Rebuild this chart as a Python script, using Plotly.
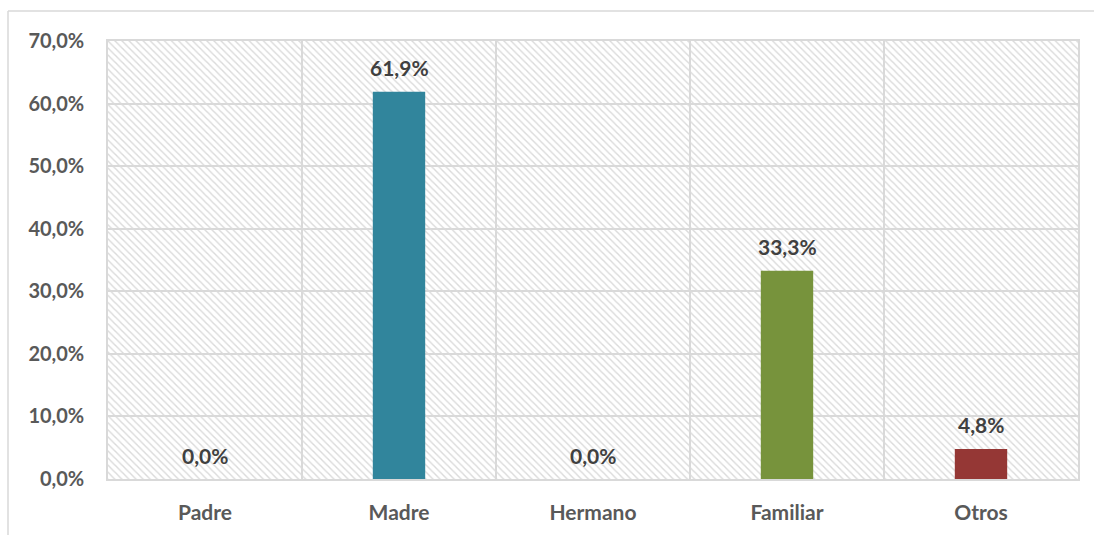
import plotly.graph_objects as go

categories = ["Padre", "Madre", "Hermano", "Familiar", "Otros"]
values = [0.0, 61.9, 0.0, 33.3, 4.8]
bar_colors = ["#4f81bd", "#31859c", "#c0504d", "#77933c", "#953735"]
y_ticks = [0, 10, 20, 30, 40, 50, 60, 70]
y_ticktext = ["0,0%", "10,0%", "20,0%", "30,0%", "40,0%", "50,0%", "60,0%", "70,0%"]

n = len(categories)
idx = list(range(n))
ymax = 70

fig = go.Figure()

# hatched background of plot area
fig.add_trace(go.Bar(
    x=[(n - 1) / 2], y=[ymax], width=[n],
    marker=dict(color="rgba(0,0,0,0)", line=dict(width=0),
                pattern=dict(shape="\\", fgcolor="#dadada", bgcolor="rgba(0,0,0,0)",
                             size=5, solidity=0.28, fillmode="replace")),
    hoverinfo="skip", showlegend=False,
))

fig.add_trace(go.Bar(
    x=idx, y=values, width=0.27,
    marker=dict(color=bar_colors, line=dict(width=0)),
    showlegend=False,
))

for i, v in zip(idx, values):
    fig.add_annotation(
        x=i, y=v, text=f"{v:.1f}%".replace(".", ","),
        showarrow=False, yanchor="middle", yshift=24,
        font=dict(family="Lato", size=21, color="#404040", weight="bold"),
    )

W, H = 1094, 535
l, r, t, b = 108, 16, 41, 56
pw, ph = W - l - r, H - t - b
top_y = 1 + (t - 11) / ph
left_x = (8 - l) / pw
fig.add_shape(type="line", xref="paper", yref="paper",
              x0=left_x, x1=(W - l) / pw, y0=top_y, y1=top_y,
              line=dict(color="#d9d9d9", width=1.5))
fig.add_shape(type="line", xref="paper", yref="paper",
              x0=left_x, x1=left_x, y0=top_y, y1=-(b + 5) / ph,
              line=dict(color="#d9d9d9", width=1.5))

fig.update_layout(
    width=W, height=H,
    margin=dict(l=l, r=r, t=t, b=b),
    paper_bgcolor="white", plot_bgcolor="white",
    barmode="overlay",
    xaxis=dict(
        range=[-0.5, n - 0.5], tickvals=idx, ticktext=categories,
        showgrid=False, zeroline=False,
        showline=True, mirror=True, linecolor="#d9d9d9", linewidth=1.5,
        ticks="", ticklabelstandoff=14,
        tickfont=dict(family="Lato", size=21, color="#595959", weight="bold"),
        minor=dict(tickvals=[i + 0.5 for i in idx[:-1]], showgrid=True,
                   gridcolor="#d9d9d9", gridwidth=1.5, ticks=""),
    ),
    yaxis=dict(
        range=[0, ymax], tickvals=y_ticks, ticktext=y_ticktext,
        showgrid=True, gridcolor="#d9d9d9", gridwidth=1.5, zeroline=False,
        showline=True, mirror=True, linecolor="#d9d9d9", linewidth=1.5,
        ticks="", ticklabelstandoff=18,
        tickfont=dict(family="Lato", size=20, color="#595959", weight="bold"),
    ),
)

fig.write_html("out.html", config={"displayModeBar": False},
               post_script="document.body.style.margin='0';")
